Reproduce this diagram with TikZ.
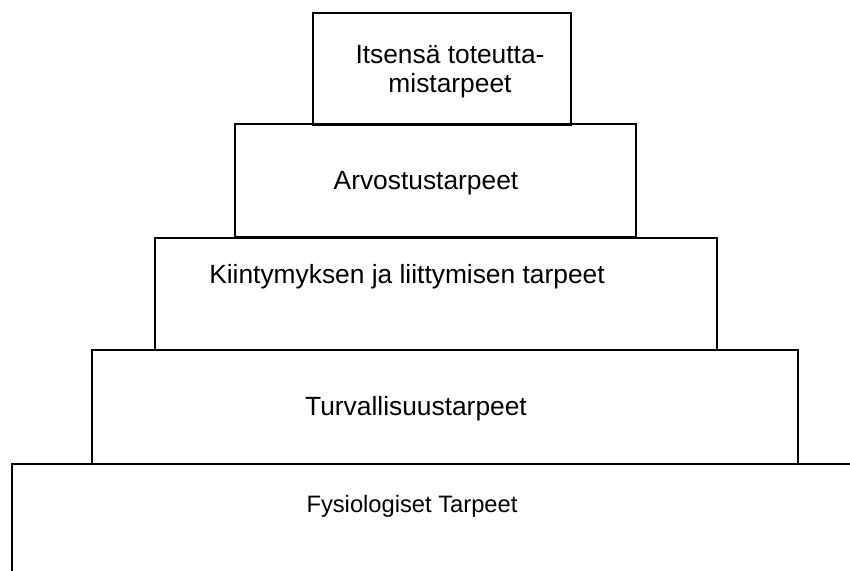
\documentclass[tikz,border=0pt]{standalone}
\usepackage{fontspec}
\setmainfont{Liberation Sans}
\usetikzlibrary{positioning}

\tikzset{
  tier/.style     = {line width=1.5pt},
  tiertext/.style = {inner sep=0pt, align=center, font=\fontsize{15}{16.5}\selectfont},
  basetext/.style = {inner sep=0pt, font=\fontsize{13.5}{14}\selectfont}
}

\begin{document}
\begin{tikzpicture}[x=0.02cm, y=-0.02cm]
        \useasboundingbox (0,0) rectangle (850,571);

        % the steps, top to bottom
        \draw[tier] (313,13) rectangle (571,125);
        \draw[tier] (235,124) rectangle (636,237);
        \draw[tier] (155,238) rectangle (717,350);
        \draw[tier] (92,350) rectangle (798,464);

        % open ground level
        \draw[tier] (850,464) -- (12,464) -- (12,571);

        \node[tiertext] (itse) at (450,72) {Itsensä toteutta-\\mistarpeet};
        \node[tiertext] (arvo) at (426,183) {Arvostustarpeet};
        \node[tiertext] (kiin) at (407,277) {Kiintymyksen ja liittymisen tarpeet};
        \node[tiertext] (turva) at (416,409) {Turvallisuustarpeet};
        \node[basetext] (fysio) at (412,506) {Fysiologiset Tarpeet};
    \end{tikzpicture}
\end{document}
